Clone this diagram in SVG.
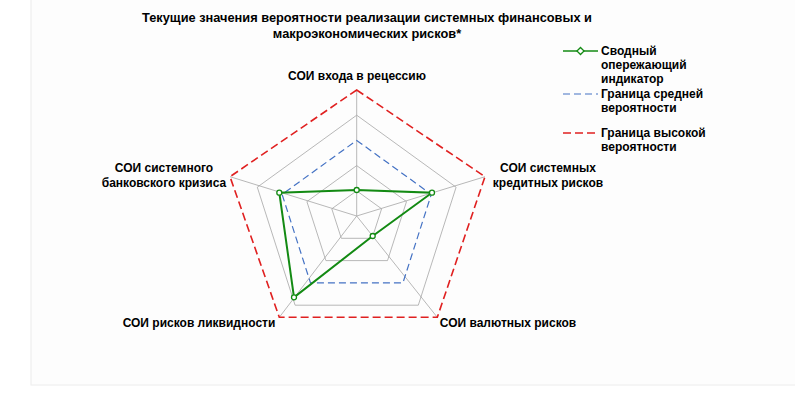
<svg xmlns="http://www.w3.org/2000/svg" width="795" height="405" viewBox="0 0 795 405">
<style>
text{font-family:"Liberation Sans",Arial,sans-serif;font-weight:bold;font-size:12px;fill:#000}
.t{font-size:12.8px}
.g{fill:none;stroke:#a6a6a6;stroke-width:0.8}
.b{fill:none;stroke:#4472c4;stroke-width:1.2;stroke-dasharray:7,4}
.r{fill:none;stroke:#e02020;stroke-width:1.6;stroke-dasharray:8,4}
.s{fill:none;stroke:#138a13;stroke-width:2}
.m{fill:#fff;stroke:#138a13;stroke-width:1.3}
</style>
<rect x="31" y="-1" width="765" height="386" fill="#fdfdfd" stroke="#ececec"/>
<g id="title">
<text class="t" x="367" y="22" text-anchor="middle">Текущие значения вероятности реализации системных финансовых и</text>
<text class="t" x="367" y="38" text-anchor="middle">макроэкономических рисков*</text>
</g>
<g id="grid">
<polygon class="g" points="356.7,190.8 381.6,208.8 372.1,238.3 341.3,238.3 331.8,208.8"/>
<polygon class="g" points="356.7,165.6 406.5,201.6 387.5,260.6 325.9,260.6 306.9,201.6"/>
<polygon class="g" points="356.7,115.2 456.1,187.2 418.3,305.2 295.1,305.2 257.3,187.2"/>
<path class="g" d="M356.7,216V90M356.7,216L485,176.7M356.7,216L437.3,317.3M356.7,216L279.3,317.3M356.7,216L230,176.7"/>
</g>
<g id="mid">
<polygon class="b" points="356.7,140.4 431.3,194.4 402.9,282.9 310.5,282.9 282.1,194.4"/>
</g>
<g id="high">
<polygon class="r" points="356.7,90 485,176.7 437.3,317.3 279.3,317.3 230,176.7"/>
</g>
<g id="series">
<polygon class="s" points="356.7,190 432,192.7 372.7,236 294,297.3 279.3,192.7"/>
<g class="m"><circle cx="356.7" cy="190" r="2.5"/><circle cx="432" cy="192.7" r="2.5"/><circle cx="372.7" cy="236" r="2.5"/><circle cx="294" cy="297.3" r="2.5"/><circle cx="279.3" cy="192.7" r="2.5"/></g>
</g>
<g id="labels">
<text x="357" y="80" text-anchor="middle">СОИ входа в рецессию</text>
<text x="548" y="172" text-anchor="middle">СОИ системных</text>
<text x="548" y="187" text-anchor="middle">кредитных рисков</text>
<text x="164" y="172" text-anchor="middle">СОИ системного</text>
<text x="164" y="187" text-anchor="middle">банковского кризиса</text>
<text x="508" y="327" text-anchor="middle">СОИ валютных рисков</text>
<text x="199" y="327" text-anchor="middle">СОИ рисков ликвидности</text>
</g>
<g id="legend">
<line class="s" x1="563" y1="51" x2="598" y2="51" style="stroke-width:1.6"/>
<rect x="578" y="48.5" width="5" height="5" transform="rotate(45 580.5 51)" class="m"/>
<text x="601" y="55">Сводный</text>
<text x="601" y="69">опережающий</text>
<text x="601" y="83">индикатор</text>
<line class="b" x1="563" y1="94" x2="598" y2="94"/>
<text x="601" y="98">Граница средней</text>
<text x="601" y="112">вероятности</text>
<line class="r" x1="563" y1="133" x2="598" y2="133"/>
<text x="601" y="137">Граница высокой</text>
<text x="601" y="151">вероятности</text>
</g>
</svg>
